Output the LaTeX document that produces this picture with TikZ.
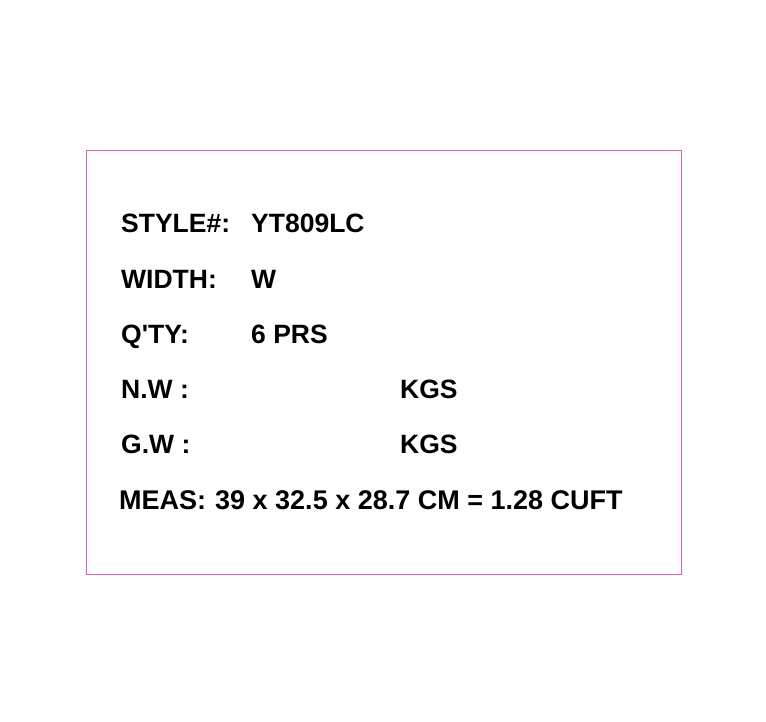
\documentclass[tikz,border=0pt]{standalone}
\usepackage{fontspec}
\setmainfont{Liberation Sans}
\definecolor{framepink}{RGB}{222,100,182}
\begin{document}
\begin{tikzpicture}[x=1pt,y=-1pt,
  lbl/.style={anchor=base west,inner sep=0pt,font=\fontsize{26.5}{30}\selectfont\bfseries},
  meas/.style={anchor=base west,inner sep=0pt,font=\fontsize{27}{30}\selectfont\bfseries}]
\useasboundingbox (0,0) rectangle (766,722);
\draw[framepink,line width=1.2pt] (86.5,150.5) rectangle (681.5,574.5);
\node[lbl] (l1) at (121,233) {STYLE\#:};
\node[lbl] (v1) at (251,233) {YT809LC};
\node[lbl] (l2) at (121,288) {WIDTH:};
\node[lbl] (v2) at (251,288) {W};
\node[lbl] (l3) at (121,343) {Q\textquotesingle TY:};
\node[lbl] (v3) at (251,343) {6 PRS};
\node[lbl] (l4) at (121,398) {N.W :};
\node[lbl] (v4) at (400,398) {KGS};
\node[lbl] (l5) at (121,453) {G.W :};
\node[lbl] (v5) at (400,453) {KGS};
\node[meas] (l6) at (119,509) {MEAS:};
\node[meas] (v6) at (215,509) {39 x 32.5 x 28.7 CM = 1.28 CUFT};
\end{tikzpicture}
\end{document}
